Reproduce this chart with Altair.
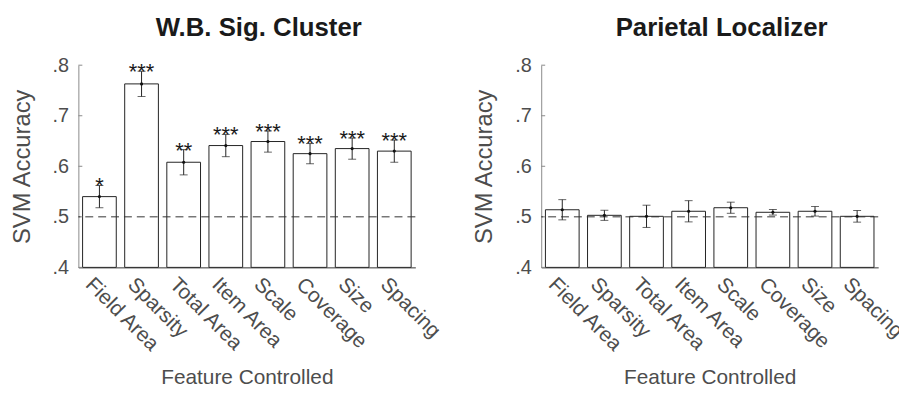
import altair as alt
import pandas as pd

features = ["Field Area", "Sparsity", "Total Area", "Item Area", "Scale", "Coverage", "Size", "Spacing"]

wb_acc = [0.540, 0.763, 0.608, 0.641, 0.649, 0.625, 0.635, 0.630]
wb_err = [0.022, 0.025, 0.025, 0.022, 0.021, 0.020, 0.021, 0.022]
wb_sig = ["*", "***", "**", "***", "***", "***", "***", "***"]

par_acc = [0.514, 0.503, 0.501, 0.511, 0.518, 0.509, 0.511, 0.501]
par_err = [0.020, 0.010, 0.022, 0.021, 0.011, 0.0055, 0.0095, 0.0115]
par_sig = ["", "", "", "", "", "", "", ""]

yticks = [0.4, 0.5, 0.6, 0.7, 0.8]
chance = 0.5
ymin, ymax = 0.4, 0.8

FONT = "Liberation Sans"
GRAY = "#4d4d4d"


def panel(title, acc, err, sig):
    df = pd.DataFrame({
        "feature": features,
        "acc": acc,
        "lo": [a - e for a, e in zip(acc, err)],
        "hi": [a + e for a, e in zip(acc, err)],
        "sig": sig,
    })
    base = alt.Chart(df)
    xenc = alt.X(
        "feature:N", sort=features,
        scale=alt.Scale(paddingInner=0.2, paddingOuter=0.1),
        axis=alt.Axis(
            title="Feature Controlled", labelAngle=45, labelAlign="left",
            labelBaseline="top", labelPadding=6, labelFontSize=21,
            labelColor=GRAY, titleColor=GRAY, titleFontSize=21,
            titleFontWeight="normal", titlePadding=12, ticks=False,
            domainColor="#333333", labelFont=FONT, titleFont=FONT,
            labelOffset=-3,
        ),
    )
    yscale = alt.Scale(domain=[ymin, ymax], nice=False, zero=False)
    yenc = alt.Y(
        "acc:Q", scale=yscale,
        axis=alt.Axis(
            title="SVM Accuracy", values=yticks,
            labelExpr="substring(format(datum.value, '.1f'), 1)",
            labelFontSize=20, labelColor=GRAY, labelPadding=10,
            titleFontSize=24, titleColor=GRAY, titleFontWeight="normal",
            titlePadding=18, ticks=False, grid=False, domainColor="#8a8a8a",
            labelFont=FONT, titleFont=FONT,
        ),
    )
    bars = base.mark_bar(fill="white", stroke="#222222", strokeWidth=1).encode(
        x=xenc, y=yenc, y2=alt.datum(ymin)
    )
    ytick_marks = alt.Chart(pd.DataFrame({"t": yticks})).mark_rule(
        color="#8a8a8a", strokeWidth=1
    ).encode(x=alt.value(0), x2=alt.value(4), y=alt.Y("t:Q", scale=yscale))
    dashed = alt.Chart(pd.DataFrame({"c": [chance]})).mark_rule(
        color="#333333", strokeDash=[8, 5], strokeWidth=1
    ).encode(y=alt.Y("c:Q", scale=yscale))
    err_rule = base.mark_rule(color="#222222", strokeWidth=1).encode(
        x=alt.X("feature:N", sort=features), y=alt.Y("lo:Q", scale=yscale), y2="hi:Q"
    )
    cap_lo = base.mark_tick(color="#222222", size=8, thickness=1).encode(
        x=alt.X("feature:N", sort=features), y=alt.Y("lo:Q", scale=yscale)
    )
    cap_hi = base.mark_tick(color="#222222", size=8, thickness=1).encode(
        x=alt.X("feature:N", sort=features), y=alt.Y("hi:Q", scale=yscale)
    )
    dots = base.mark_point(filled=True, size=10, color="#111111", opacity=1).encode(
        x=alt.X("feature:N", sort=features), y=alt.Y("acc:Q", scale=yscale)
    )
    stars = base.mark_text(
        fontSize=22, font=FONT, baseline="alphabetic", dy=8, color="#1a1a1a"
    ).encode(
        x=alt.X("feature:N", sort=features), y=alt.Y("hi:Q", scale=yscale), text="sig:N"
    )
    return alt.layer(
        bars, ytick_marks, dashed, err_rule, cap_lo, cap_hi, dots, stars
    ).properties(
        width=340, height=204,
        title=alt.TitleParams(
            title, fontSize=26, fontWeight="bold", color="#1a1a1a", font=FONT,
            dx=12, offset=14,
        ),
    )


left = panel("W.B. Sig. Cluster", wb_acc, wb_err, wb_sig)
right = panel("Parietal Localizer", par_acc, par_err, par_sig)

chart = alt.hconcat(left, right, spacing=127, bounds="flush").properties(
    autosize=alt.AutoSizeParams(type="none"),
    padding={"left": 71, "top": 56, "right": 828, "bottom": 120},
).configure_view(stroke=None).configure_axis(
    domainWidth=1
)

chart.save("out.html", embed_options={"renderer": "svg", "actions": False})
